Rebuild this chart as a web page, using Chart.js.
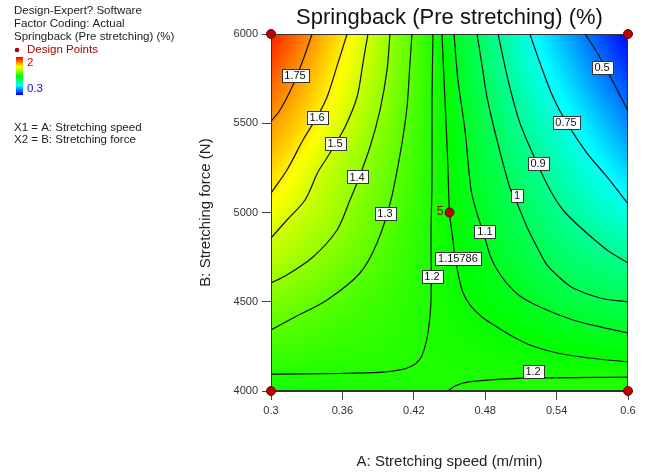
<!DOCTYPE html>
<html>
<head>
<meta charset="utf-8">
<script src="https://cdn.jsdelivr.net/npm/chart.js@4.4.1/dist/chart.umd.min.js"></script>
<style>
  html, body { margin: 0; padding: 0; background: #fff; }
  #wrap { width: 651px; height: 472px; }
</style>
</head>
<body>
<div id="wrap"><canvas id="chart" width="651" height="472"></canvas></div>
<script>
// Factor ranges and tick labels
const speedTicks = [0.3, 0.36, 0.42, 0.48, 0.54, 0.6];
const speedTickLabels = ['0.3', '0.36', '0.42', '0.48', '0.54', '0.6'];
const forceTicks = [4000, 4500, 5000, 5500, 6000];
const forceTickLabels = ['4000', '4500', '5000', '5500', '6000'];

// Predicted springback (%) on a grid of speed (m/min) x force (N)
const speedGrid = [0.3, 0.35, 0.4, 0.45, 0.5, 0.55, 0.6];
const forceGrid = [4000, 4250, 4500, 4750, 5000, 5250, 5500, 5750, 6000];
const springback4000 = [1.18, 1.185, 1.19, 1.20, 1.21, 1.215, 1.22];
const springback4250 = [1.263, 1.237, 1.22, 1.19, 1.17, 1.142, 1.127];
const springback4500 = [1.36, 1.294, 1.237, 1.178, 1.12, 1.045, 1.01];
const springback4750 = [1.46, 1.37, 1.266, 1.168, 1.067, 0.965, 0.905];
const springback5000 = [1.557, 1.43, 1.295, 1.158, 1.03, 0.895, 0.77];
const springback5250 = [1.65, 1.47, 1.32, 1.155, 0.986, 0.83, 0.65];
const springback5500 = [1.75, 1.55, 1.35, 1.146, 0.94, 0.75, 0.53];
const springback5750 = [1.85, 1.61, 1.38, 1.135, 0.895, 0.66, 0.41];
const springback6000 = [1.95, 1.67, 1.40, 1.12, 0.85, 0.575, 0.30];
const springbackRows = [springback4000, springback4250, springback4500, springback4750,
  springback5000, springback5250, springback5500, springback5750, springback6000];
const colorLow = 0.3, colorHigh = 2;

// Contour lines: [speed, force] pairs
const line050 = [[0.5639,6000],[0.5748,5888],[0.5866,5742],[0.6,5569]];
const line075 = [[0.5176,6000],[0.526,5838],[0.537,5647],[0.5487,5501],[0.5655,5333],[0.5824,5199],[0.6,5048]];
const line090 = [[0.4908,6000],[0.4992,5742],[0.5092,5501],[0.5235,5277],[0.5345,5126],[0.5454,5014],[0.5597,4919],[0.5824,4790],[0.6,4717]];
const line100 = [[0.4731,6000],[0.4773,5826],[0.4815,5647],[0.4899,5406],[0.5008,5137],[0.5067,5053],[0.5151,4919],[0.5235,4807],[0.5319,4706],[0.5429,4633],[0.5538,4577],[0.5765,4521],[0.6,4499]];
const line110 = [[0.4538,6000],[0.4571,5742],[0.463,5462],[0.4681,5126],[0.4723,5014],[0.479,4874],[0.484,4762],[0.4891,4689],[0.4966,4616],[0.5092,4532],[0.526,4471],[0.5538,4398],[0.5765,4359],[0.6,4325]];
const line1158 = [[0.4437,6000],[0.4454,5742],[0.4471,5501],[0.4487,5249],[0.45,5000],[0.4529,4846],[0.4546,4751],[0.4605,4566],[0.4672,4482],[0.4773,4415],[0.4899,4359],[0.5025,4308],[0.5176,4258],[0.5403,4213],[0.5681,4185],[0.6,4163]];
const line120a = [[0.4361,6000],[0.4353,5630],[0.4353,5182],[0.4345,4885],[0.4345,4510],[0.4319,4325],[0.4286,4230],[0.4252,4179],[0.4185,4140],[0.4084,4118],[0.3916,4104],[0.358,4098],[0.3,4095]];
const line120b = [[0.4487,4000],[0.4546,4028],[0.4647,4050],[0.484,4062],[0.5176,4073],[0.6,4078]];
const line130 = [[0.4185,6000],[0.4168,5838],[0.4143,5591],[0.4101,5389],[0.4008,5070],[0.3891,4829],[0.3748,4661],[0.3471,4510],[0.3185,4409],[0.3,4342]];
const line140 = [[0.4,6000],[0.3975,5798],[0.3916,5574],[0.3832,5367],[0.3723,5165],[0.3664,5070],[0.3555,4902],[0.3353,4751],[0.3134,4650],[0.3,4605]];
const line150 = [[0.3815,6000],[0.3773,5838],[0.3723,5647],[0.3622,5479],[0.3496,5333],[0.3395,5227],[0.3286,5070],[0.3134,4958],[0.3,4857]];
const line160 = [[0.3639,6000],[0.3563,5838],[0.3471,5647],[0.3387,5535],[0.3269,5406],[0.3134,5238],[0.3,5109]];
const line175 = [[0.3345,6000],[0.3269,5854],[0.3185,5714],[0.3076,5574],[0.3,5510]];
const contourLines = [line050, line075, line090, line100, line110, line1158,
  line120a, line120b, line130, line140, line150, line160, line175];

// Contour level labels: level and where the label sits [speed, force]
const labelLevels = [1.75, 1.6, 1.5, 1.4, 1.3, 1.2, 1.15786, 1.1, 1, 0.9, 0.75, 0.5, 1.2];
const labelSpots = [[0.3202,5765],[0.3387,5535],[0.3538,5384],[0.3723,5199],[0.3958,4992],
  [0.4353,4639],[0.4571,4740],[0.4798,4891],[0.5067,5098],[0.5244,5277],[0.5479,5507],[0.5782,5815],[0.5202,4107]];

// Design points
const designSpeed = [0.3, 0.6, 0.3, 0.6, 0.45];
const designForce = [6000, 6000, 4000, 4000, 5000];
const designRuns = ['', '', '', '', '5'];

const FONT = "'Liberation Sans', Arial, Helvetica, sans-serif";

function rampColor(v) {
  let t = (v - colorLow) / (colorHigh - colorLow);
  t = Math.max(0, Math.min(1, t));
  const stops = [[0, [0, 0, 255]], [0.25, [0, 255, 255]], [0.5, [0, 255, 0]], [0.75, [255, 255, 0]], [1, [255, 0, 0]]];
  for (let k = 0; k < stops.length - 1; k++) {
    const [t0, c0] = stops[k], [t1, c1] = stops[k + 1];
    if (t <= t1) {
      const f = (t - t0) / (t1 - t0);
      return [0, 1, 2].map(i => Math.round(c0[i] + (c1[i] - c0[i]) * f));
    }
  }
  return stops[stops.length - 1][1];
}

function gridIndex(arr, v) {
  let i = 0;
  while (i < arr.length - 2 && v > arr[i + 1]) i++;
  const f = Math.max(0, Math.min(1, (v - arr[i]) / (arr[i + 1] - arr[i])));
  return [i, f];
}

function surfaceAt(a, b) {
  const [i, fx] = gridIndex(speedGrid, a);
  const [j, fy] = gridIndex(forceGrid, b);
  const r0 = springbackRows[j], r1 = springbackRows[j + 1];
  const v0 = r0[i] + (r0[i + 1] - r0[i]) * fx;
  const v1 = r1[i] + (r1[i + 1] - r1[i]) * fx;
  return v0 + (v1 - v0) * fy;
}

const surfacePlugin = {
  id: 'surface',
  beforeDatasetsDraw(chart) {
    const { ctx, chartArea: a, scales: { x, y } } = chart;
    const w = Math.round(a.right - a.left), h = Math.round(a.bottom - a.top);
    const off = document.createElement('canvas');
    off.width = w; off.height = h;
    const octx = off.getContext('2d');
    const img = octx.createImageData(w, h);
    for (let j = 0; j < h; j++) {
      const B = y.getValueForPixel(a.top + j + 0.5);
      for (let i = 0; i < w; i++) {
        const A = x.getValueForPixel(a.left + i + 0.5);
        const c = rampColor(surfaceAt(A, B));
        const p = (j * w + i) * 4;
        img.data[p] = c[0]; img.data[p + 1] = c[1]; img.data[p + 2] = c[2]; img.data[p + 3] = 255;
      }
    }
    octx.putImageData(img, 0, 0);
    ctx.save();
    ctx.drawImage(off, a.left, a.top);
    ctx.strokeStyle = '#333';
    ctx.lineWidth = 1;
    ctx.strokeRect(Math.round(a.left) + 0.5, Math.round(a.top) + 0.5, w - 1, h - 1);
    ctx.restore();
  },
  afterDatasetsDraw(chart) {
    const { ctx, scales: { x, y } } = chart;
    ctx.save();
    ctx.font = '11px ' + FONT;
    ctx.textAlign = 'center';
    ctx.textBaseline = 'middle';
    labelLevels.forEach((lev, k) => {
      const px = x.getPixelForValue(labelSpots[k][0]);
      const py = y.getPixelForValue(labelSpots[k][1]);
      const text = String(lev);
      const tw = ctx.measureText(text).width;
      const bw = Math.round(tw + 6), bh = 13;
      const bx = Math.round(px - bw / 2) + 0.5, by = Math.round(py - bh / 2) + 0.5;
      ctx.fillStyle = '#fff';
      ctx.fillRect(bx, by, bw, bh);
      ctx.strokeStyle = '#333';
      ctx.lineWidth = 1;
      ctx.strokeRect(bx, by, bw, bh);
      ctx.fillStyle = '#111';
      ctx.fillText(text, px, py + 0.5);
    });
    // replicate count beside the centre point
    ctx.font = '12px ' + FONT;
    ctx.textAlign = 'right';
    ctx.fillStyle = '#8b0000';
    designRuns.forEach((r, k) => {
      if (!r) return;
      ctx.fillText(r, x.getPixelForValue(designSpeed[k]) - 6, y.getPixelForValue(designForce[k]) - 1);
    });
    ctx.restore();
  },
  afterDraw(chart) {
    const { ctx, chartArea: a } = chart;
    ctx.save();
    // title
    ctx.fillStyle = '#111';
    ctx.font = '22px ' + FONT;
    ctx.textAlign = 'center';
    ctx.textBaseline = 'middle';
    ctx.fillText('Springback (Pre stretching) (%)', (a.left + a.right) / 2, 18);
    // axis titles
    ctx.font = '15px ' + FONT;
    ctx.fillStyle = '#222';
    ctx.fillText('A: Stretching speed (m/min)', (a.left + a.right) / 2, 462);
    ctx.save();
    ctx.translate(206, (a.top + a.bottom) / 2);
    ctx.rotate(-Math.PI / 2);
    ctx.fillText('B: Stretching force (N)', 0, 0);
    ctx.restore();
    // side notes
    ctx.textAlign = 'left';
    ctx.font = '11.5px ' + FONT;
    ctx.fillStyle = '#222';
    ctx.fillText('Design-Expert? Software', 14, 11);
    ctx.fillText('Factor Coding: Actual', 14, 24);
    ctx.fillText('Springback (Pre stretching) (%)', 14, 37);
    ctx.fillStyle = '#b00000';
    ctx.beginPath(); ctx.arc(17, 50, 2.3, 0, Math.PI * 2); ctx.fill();
    ctx.fillText('Design Points', 27, 50);
    // colour key
    const top = 57, bot = 95;
    for (let yy = top; yy < bot; yy++) {
      const v = colorHigh - (colorHigh - colorLow) * (yy - top) / (bot - top - 1);
      const c = rampColor(v);
      ctx.fillStyle = `rgb(${c[0]},${c[1]},${c[2]})`;
      ctx.fillRect(16, yy, 7, 1);
    }
    ctx.fillStyle = '#d00000';
    ctx.fillText(String(colorHigh), 27, 63);
    ctx.fillStyle = '#1010d0';
    ctx.fillText(String(colorLow), 27, 89);
    ctx.fillStyle = '#222';
    ctx.fillText('X1 = A: Stretching speed', 14, 128);
    ctx.fillText('X2 = B: Stretching force', 14, 140);
    ctx.restore();
  }
};

const contourSets = contourLines.map(line => ({
  data: line.map(p => ({ x: p[0], y: p[1] })),
  showLine: true,
  borderColor: '#111',
  borderWidth: 1.2,
  pointRadius: 0,
  tension: 0.3,
  order: 2
}));

const designSet = {
  data: designSpeed.map((s, k) => ({ x: s, y: designForce[k] })),
  showLine: false,
  pointRadius: 4.5,
  pointBackgroundColor: '#c00000',
  pointBorderColor: '#6b0000',
  pointBorderWidth: 1,
  clip: false,
  order: 0
};

new Chart(document.getElementById('chart'), {
  type: 'scatter',
  data: { datasets: [...contourSets, designSet] },
  plugins: [surfacePlugin],
  options: {
    responsive: false,
    animation: false,
    events: [],
    layout: { padding: { left: 197, right: 23, top: 34, bottom: 0 } },
    plugins: { legend: { display: false }, tooltip: { enabled: false }, title: { display: false } },
    scales: {
      x: {
        type: 'linear', min: 0.3, max: 0.6,
        afterBuildTicks: s => { s.ticks = speedTicks.map(v => ({ value: v })); },
        afterFit: s => { s.height = 81; },
        ticks: { callback: (v, i) => speedTickLabels[i], font: { size: 11, family: FONT }, color: '#333', padding: 4, maxRotation: 0 },
        grid: { drawOnChartArea: false, drawTicks: true, tickLength: 9, color: '#444' },
        border: { display: true, color: '#333' }
      },
      y: {
        type: 'linear', min: 4000, max: 6000,
        afterBuildTicks: s => { s.ticks = forceTicks.map(v => ({ value: v })); },
        afterFit: s => { s.width = 74; },
        ticks: { callback: (v, i) => forceTickLabels[i], font: { size: 11, family: FONT }, color: '#333', padding: 4 },
        grid: { drawOnChartArea: false, drawTicks: true, tickLength: 9, color: '#444' },
        border: { display: true, color: '#333' }
      }
    }
  }
});
</script>
</body>
</html>
